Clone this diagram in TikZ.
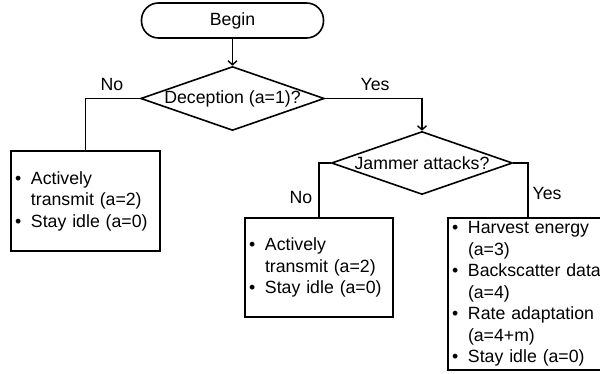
\documentclass[tikz,border=0pt]{standalone}
\usepackage{fontspec}
\setmainfont{Liberation Sans}
\usetikzlibrary{shapes.geometric,arrows.meta}
\newcommand{\bul}{\makebox[16pt][l]{\textbullet}}
\newcommand{\ind}{\hspace*{16pt}}
\begin{document}
\begin{tikzpicture}[x=1pt,y=-1pt,
  every node/.style={font=\fontsize{17.7}{21.5}\selectfont},
  conn/.style={line width=1.6pt},
  arr/.style={conn,-{Straight Barb[length=4pt,width=9pt,line width=1.4pt]}},
  term/.style={draw,line width=1.6pt,minimum width=182pt,minimum height=35pt,rounded corners=17pt},
  dec/.style={draw,line width=1.6pt,diamond,aspect=2.87,inner sep=0pt,minimum width=181pt,minimum height=63pt},
  listbox/.style={draw,line width=1.6pt,align=left,inner xsep=4pt,inner ysep=0pt}
]
\useasboundingbox (0,0) rectangle (600,374);
\node[term] (begin) at (232.5,20.5) {Begin};
\node[dec] (d1) at (232.5,98.5) {Deception (a=1)?};
\node[dec] (d2) at (422,163) {Jammer attacks?};
\node[listbox,text width=141pt,minimum height=100pt] (lbox) at (85.5,201)
  {\bul Actively\\\ind transmit (a=2)\\\bul Stay idle (a=0)};
\node[listbox,text width=140pt,minimum height=99pt] (mbox) at (319,267.5)
  {\bul Actively\\\ind transmit (a=2)\\\bul Stay idle (a=0)};
\node[listbox,text width=152pt,minimum height=152pt] (rbox) at (528,294)
  {\bul Harvest energy\\\ind (a=3)\\\bul Backscatter data\\\ind (a=4)\\\bul Rate adaptation\\\ind (a=4+m)\\\bul Stay idle (a=0)};
\node (no1) at (112,85) {No};
\node (yes1) at (375,85) {Yes};
\node (no2) at (301,197) {No};
\node (yes2) at (547,193) {Yes};
\draw[arr] (begin) -- (d1);
\draw[conn] (d1.west) -| (lbox.north);
\draw[arr] (d1.east) -| (d2.north);
\draw[conn] (d2.west) -| (mbox.north);
\draw[conn] (d2.east) -| (rbox.north);
\end{tikzpicture}
\end{document}
